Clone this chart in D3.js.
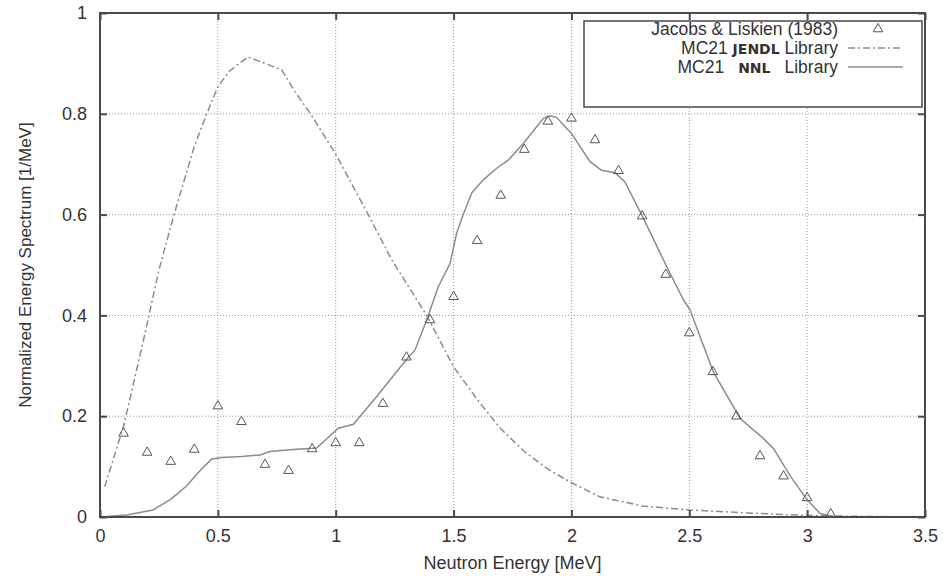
<!DOCTYPE html>
<html>
<head>
<meta charset="utf-8">
<script src="https://cdn.jsdelivr.net/npm/d3@7"></script>
<style>
  body { margin: 0; background: #fff; }
  text { font-family: "Liberation Sans", Arial, sans-serif; fill: #333; }
</style>
</head>
<body>
<div id="chart"></div>
<script>

// measured points, Jacobs & Liskien (1983)
var expEnergy = [0.1, 0.2, 0.3, 0.4, 0.5, 0.6, 0.7, 0.8, 0.9, 1.0,
                 1.1, 1.2, 1.3, 1.4, 1.5, 1.6, 1.7, 1.8, 1.9, 2.0,
                 2.1, 2.2, 2.3, 2.4, 2.5, 2.6, 2.7, 2.8, 2.9, 3.0, 3.1];
var expValue = [0.166, 0.128, 0.110, 0.134, 0.220, 0.189, 0.104, 0.092, 0.135, 0.147,
                0.147, 0.225, 0.317, 0.391, 0.437, 0.548, 0.638, 0.729, 0.785, 0.791,
                0.748, 0.687, 0.597, 0.481, 0.365, 0.288, 0.200, 0.121, 0.081, 0.038, 0.006];

// MC21 JENDL library curve
var jendlEnergy = [0.02, 0.1, 0.184, 0.25, 0.314, 0.4, 0.453, 0.5, 0.55, 0.627,
                   0.7, 0.771, 0.827, 0.9, 1.0, 1.138, 1.238, 1.386, 1.5, 1.612,
                   1.7, 1.8, 1.9, 2.0, 2.121, 2.3, 2.5, 2.75, 3.0, 3.25, 3.5];
var jendlValue = [0.06, 0.18, 0.35, 0.49, 0.60, 0.735, 0.80, 0.854, 0.885, 0.913,
                  0.90, 0.887, 0.844, 0.795, 0.72, 0.60, 0.51, 0.40, 0.298, 0.226,
                  0.175, 0.13, 0.095, 0.068, 0.04, 0.022, 0.014, 0.008, 0.003, 0.001, 0.0];

// MC21 NNL library curve
var nnlEnergy = [0, 0.113, 0.225, 0.3, 0.368, 0.42, 0.474, 0.516, 0.6, 0.679,
                 0.721, 0.82, 0.919, 1.011, 1.075, 1.174, 1.301, 1.336, 1.386, 1.435,
                 1.485, 1.513, 1.541, 1.577, 1.626, 1.683, 1.732, 1.796, 1.881, 1.909,
                 1.937, 2.0, 2.079, 2.128, 2.185, 2.227, 2.305, 2.404, 2.475, 2.503,
                 2.602, 2.715, 2.814, 2.857, 2.93, 3.0, 3.055, 3.11, 3.2, 3.5];
var nnlValue = [0, 0.004, 0.014, 0.035, 0.062, 0.09, 0.115, 0.118, 0.12, 0.123,
                0.13, 0.134, 0.137, 0.176, 0.184, 0.239, 0.313, 0.331, 0.391, 0.457,
                0.503, 0.563, 0.6, 0.643, 0.669, 0.692, 0.708, 0.741, 0.791, 0.796,
                0.793, 0.761, 0.705, 0.688, 0.683, 0.665, 0.593, 0.497, 0.431, 0.411,
                0.288, 0.196, 0.156, 0.136, 0.08, 0.034, 0.007, 0.001, 0, 0];

var xTicks = [0, 0.5, 1, 1.5, 2, 2.5, 3, 3.5];
var yTicks = [0, 0.2, 0.4, 0.6, 0.8, 1];

var width = 943;
var height = 576;
var margin = {left: 100, right: 18, top: 13, bottom: 59};

var svg = d3.select("#chart")
  .append("svg")
  .attr("width", width)
  .attr("height", height);

var x = d3.scaleLinear().domain([0, 3.5]).range([margin.left, width - margin.right]);
var y = d3.scaleLinear().domain([0, 1]).range([height - margin.bottom, margin.top]);

var frameColor = "#4a4a4a";
var curveColor = "#8c8c8c";
var fontSize = "18px";

// grid
svg.append("g").selectAll("line")
  .data(xTicks.slice(1, -1))
  .enter().append("line")
  .attr("x1", function(d) { return x(d); })
  .attr("x2", function(d) { return x(d); })
  .attr("y1", y(0))
  .attr("y2", y(1))
  .attr("stroke", "#999")
  .attr("stroke-width", 1)
  .attr("stroke-dasharray", "1,2");

svg.append("g").selectAll("line")
  .data(yTicks.slice(1, -1))
  .enter().append("line")
  .attr("x1", x(0))
  .attr("x2", x(3.5))
  .attr("y1", function(d) { return y(d); })
  .attr("y2", function(d) { return y(d); })
  .attr("stroke", "#999")
  .attr("stroke-width", 1)
  .attr("stroke-dasharray", "1,2");

// curves
var line = d3.line()
  .x(function(d) { return x(d[0]); })
  .y(function(d) { return y(d[1]); });

svg.append("path")
  .datum(d3.zip(jendlEnergy, jendlValue))
  .attr("d", line)
  .attr("fill", "none")
  .attr("stroke", curveColor)
  .attr("stroke-width", 1.5)
  .attr("stroke-dasharray", "7,3,2,3");

svg.append("path")
  .datum(d3.zip(nnlEnergy, nnlValue))
  .attr("d", line)
  .attr("fill", "none")
  .attr("stroke", curveColor)
  .attr("stroke-width", 1.5);

// triangles
var tri = d3.symbol().type(d3.symbolTriangle).size(40);

svg.append("g").selectAll("path")
  .data(d3.zip(expEnergy, expValue))
  .enter().append("path")
  .attr("d", tri)
  .attr("transform", function(d) { return "translate(" + x(d[0]) + "," + y(d[1]) + ")"; })
  .attr("fill", "none")
  .attr("stroke", "#555")
  .attr("stroke-width", 1);

// axes (ticks inward, mirrored)
var tickLen = 7;
svg.append("g")
  .attr("transform", "translate(0," + y(0) + ")")
  .call(d3.axisBottom(x).tickValues(xTicks).tickSize(-tickLen).tickPadding(12)
    .tickFormat(function(d) { return d; }))
  .call(function(g) {
    g.select(".domain").remove();
    g.selectAll("line").attr("stroke", frameColor).attr("stroke-width", 2);
    g.selectAll("text").attr("font-size", fontSize).attr("fill", "#333")
      .attr("font-family", "Liberation Sans, Arial, sans-serif");
  });

svg.append("g")
  .attr("transform", "translate(0," + y(1) + ")")
  .call(d3.axisTop(x).tickValues(xTicks).tickSize(-tickLen).tickFormat(""))
  .call(function(g) {
    g.select(".domain").remove();
    g.selectAll("line").attr("stroke", frameColor).attr("stroke-width", 2);
  });

svg.append("g")
  .attr("transform", "translate(" + x(0) + ",0)")
  .call(d3.axisLeft(y).tickValues(yTicks).tickSize(-tickLen).tickPadding(13)
    .tickFormat(function(d) { return d; }))
  .call(function(g) {
    g.select(".domain").remove();
    g.selectAll("line").attr("stroke", frameColor).attr("stroke-width", 2);
    g.selectAll("text").attr("font-size", fontSize).attr("fill", "#333")
      .attr("font-family", "Liberation Sans, Arial, sans-serif");
  });

svg.append("g")
  .attr("transform", "translate(" + x(3.5) + ",0)")
  .call(d3.axisRight(y).tickValues(yTicks).tickSize(-tickLen).tickFormat(""))
  .call(function(g) {
    g.select(".domain").remove();
    g.selectAll("line").attr("stroke", frameColor).attr("stroke-width", 2);
  });

// frame
svg.append("rect")
  .attr("x", x(0))
  .attr("y", y(1))
  .attr("width", x(3.5) - x(0))
  .attr("height", y(0) - y(1))
  .attr("fill", "none")
  .attr("stroke", frameColor)
  .attr("stroke-width", 2);

// axis titles
svg.append("text")
  .attr("x", (x(0) + x(3.5)) / 2)
  .attr("y", 569)
  .attr("text-anchor", "middle")
  .attr("font-size", fontSize)
  .text("Neutron Energy [MeV]");

svg.append("text")
  .attr("transform", "translate(31," + 265 + ") rotate(-90)")
  .attr("text-anchor", "middle")
  .attr("font-size", "17px")
  .text("Normalized Energy Spectrum [1/MeV]");

// legend
var lg = svg.append("g");
lg.append("rect")
  .attr("x", 584)
  .attr("y", 21)
  .attr("width", 338)
  .attr("height", 86)
  .attr("fill", "#fff")
  .attr("stroke", frameColor)
  .attr("stroke-width", 1.5);

var textRight = 838;
var rowY = [29, 48, 67];

lg.append("text")
  .attr("x", textRight).attr("y", rowY[0] + 6)
  .attr("text-anchor", "end").attr("font-size", "17.5px")
  .text("Jacobs & Liskien (1983)");

var t2 = lg.append("text")
  .attr("x", textRight).attr("y", rowY[1] + 6)
  .attr("text-anchor", "end").attr("font-size", "17.5px");
t2.append("tspan").text("MC21 ");
t2.append("tspan").attr("font-family", "DejaVu Sans").attr("font-weight", "bold")
  .attr("font-size", "14px").text("JENDL");
t2.append("tspan").text(" Library");

var t3 = lg.append("text")
  .attr("x", textRight).attr("y", rowY[2] + 6)
  .attr("text-anchor", "end").attr("font-size", "17.5px");
t3.append("tspan").text("MC21");
t3.append("tspan").attr("dx", 14).attr("font-family", "DejaVu Sans").attr("font-weight", "bold")
  .attr("font-size", "14px").text("NNL");
t3.append("tspan").attr("dx", 14).text("Library");

lg.append("path")
  .attr("d", tri)
  .attr("transform", "translate(878," + rowY[0] + ")")
  .attr("fill", "none").attr("stroke", "#555").attr("stroke-width", 1);

lg.append("line")
  .attr("x1", 848).attr("x2", 903).attr("y1", rowY[1]).attr("y2", rowY[1])
  .attr("stroke", curveColor).attr("stroke-width", 1.5).attr("stroke-dasharray", "7,3,2,3");

lg.append("line")
  .attr("x1", 848).attr("x2", 903).attr("y1", rowY[2]).attr("y2", rowY[2])
  .attr("stroke", curveColor).attr("stroke-width", 1.5);

</script>
</body>
</html>
